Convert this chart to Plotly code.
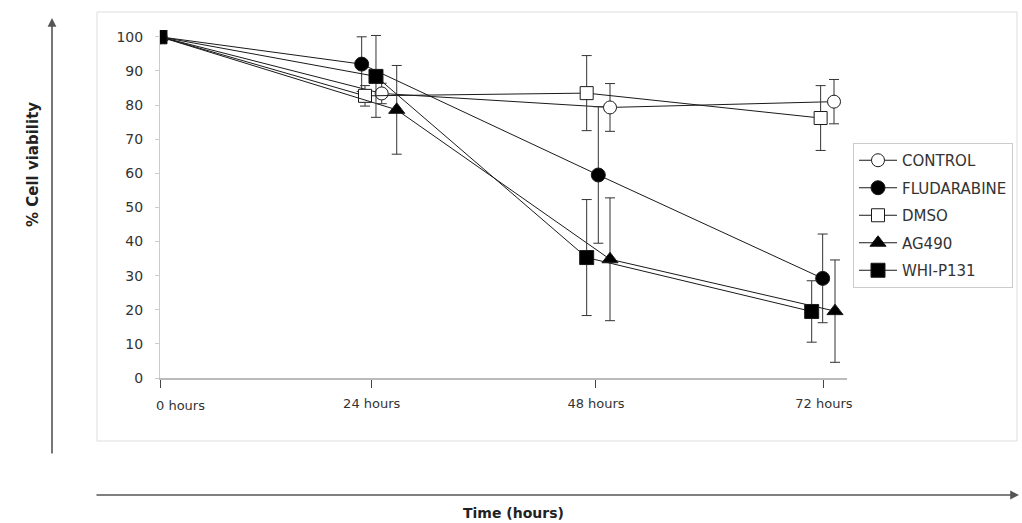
import plotly.graph_objects as go

# ---- data ----
series_names = ["CONTROL", "FLUDARABINE", "DMSO", "AG490", "WHI-P131"]
tick_vals = [0, 22.96, 47.28, 72]
tick_labels = ["0 hours", "24 hours", "48 hours", "72 hours"]

x_control = [0, 24.04, 48.8, 73.09]
y_control = [100, 83.4, 79.3, 81.0]
e_control = [0, 3.0, 7.0, 6.5]

x_fluda = [0, 21.87, 47.53, 71.86]
y_fluda = [100, 92.0, 59.5, 29.2]
e_fluda = [0, 8.0, 20.0, 13.0]

x_dmso = [0, 22.23, 46.27, 71.64]
y_dmso = [100, 82.7, 83.5, 76.2]
e_dmso = [0, 3.0, 11.0, 9.5]

x_ag490 = [0, 25.67, 48.8, 73.2]
y_ag490 = [100, 78.6, 34.8, 19.6]
e_ag490 = [0, 13.0, 18.0, 15.0]

x_whi = [0, 23.42, 46.27, 70.67]
y_whi = [100, 88.4, 35.3, 19.5]
e_whi = [0, 12.0, 17.0, 9.0]

styles = {
    "CONTROL": dict(symbol="circle", color="white", size=13),
    "FLUDARABINE": dict(symbol="circle", color="black", size=14),
    "DMSO": dict(symbol="square", color="white", size=13),
    "AG490": dict(symbol="triangle-up", color="black", size=14),
    "WHI-P131": dict(symbol="square", color="black", size=14),
}
data = {
    "CONTROL": (x_control, y_control, e_control),
    "FLUDARABINE": (x_fluda, y_fluda, e_fluda),
    "DMSO": (x_dmso, y_dmso, e_dmso),
    "AG490": (x_ag490, y_ag490, e_ag490),
    "WHI-P131": (x_whi, y_whi, e_whi),
}

FONT = "DejaVu Sans, Liberation Sans, Arial, sans-serif"

fig = go.Figure()
for name in series_names:
    xs, ys, es = data[name]
    st = styles[name]
    fig.add_trace(go.Scatter(
        x=xs, y=ys, name=name, mode="lines+markers",
        legendgroup=name,
        line=dict(color="#1a1a1a", width=1),
        marker=dict(symbol=st["symbol"], size=st["size"], color=st["color"],
                    line=dict(color="#1a1a1a", width=1)),
        error_y=dict(type="data", array=es, visible=True, color="#333333",
                     thickness=1, width=5),
    ))

# body margin is removed below, so figure coords = page coords
W, H = 1022, 523
PLOT_LEFT, PLOT_TOP = 160, 30
PLOT_RIGHT, PLOT_BOTTOM = 847, 378
L, T = PLOT_LEFT, PLOT_TOP
R = W - PLOT_RIGHT
B = H - PLOT_BOTTOM
pw, ph = W - L - R, H - T - B


def px(x):
    return (x - L) / pw


def py(y):
    return (H - B - y) / ph


fig.update_layout(
    width=W, height=H,
    margin=dict(l=L, r=R, t=T, b=B, pad=0, autoexpand=False),
    paper_bgcolor="white", plot_bgcolor="white",
    font=dict(family=FONT, size=13, color="#333333"),
    showlegend=True,
    legend=dict(
        xref="container", yref="container",
        x=853 / W, y=1 - 143 / H, xanchor="left", yanchor="top",
        bordercolor="#cccccc", borderwidth=1, bgcolor="white",
        font=dict(family=FONT, size=15, color="#333333"),
        tracegroupgap=5, itemwidth=38,
    ),
    xaxis=dict(
        range=[0, 74.5], tickmode="array", tickvals=tick_vals,
        ticktext=[""] + tick_labels[1:],
        showgrid=False, zeroline=False,
        showline=True, linecolor="#bbbbbb", linewidth=2,
        ticks="outside", ticklen=8, tickcolor="#444444", tickwidth=1,
        ticklabelstandoff=4,
        tickfont=dict(family=FONT, size=13, color="#333333"),
    ),
    yaxis=dict(
        range=[0, 102], tickmode="array", tickvals=list(range(0, 101, 10)),
        showgrid=False, zeroline=False,
        showline=True, linecolor="#cccccc", linewidth=1,
        ticks="outside", ticklen=4, tickcolor="#cccccc",
        ticklabelstandoff=9,
        tickfont=dict(family=FONT, size=14, color="#333333"),
    ),
)

# outer chart-area border
fig.add_shape(type="rect", xref="paper", yref="paper",
              x0=px(97), x1=px(1017), y0=py(441), y1=py(12),
              line=dict(color="#dddddd", width=1), fillcolor="rgba(0,0,0,0)",
              layer="below")

# first x tick label (left aligned to its tick)
fig.add_annotation(x=tick_vals[0], y=py(405), xref="x", yref="paper",
                   text=tick_labels[0], showarrow=False, xanchor="left",
                   yanchor="middle", xshift=-6,
                   font=dict(family=FONT, size=13, color="#333333"))

# vertical arrow (y axis)
fig.add_annotation(x=px(52), y=py(18), xref="paper", yref="paper",
                   ax=0, ay=455 - 18, axref="pixel", ayref="pixel",
                   text="", showarrow=True, arrowhead=2, arrowsize=1.1,
                   arrowwidth=1.6, arrowcolor="#555555")
# horizontal arrow (x axis)
fig.add_annotation(x=px(1019), y=py(495), xref="paper", yref="paper",
                   ax=-(1019 - 95), ay=0, axref="pixel", ayref="pixel",
                   text="", showarrow=True, arrowhead=2, arrowsize=1.1,
                   arrowwidth=1.6, arrowcolor="#555555")

fig.add_annotation(x=px(33), y=py(165), xref="paper", yref="paper",
                   text="<b>% Cell viability</b>", showarrow=False,
                   textangle=-90, xanchor="center", yanchor="middle",
                   font=dict(family=FONT, size=15, color="#222222"))
fig.add_annotation(x=px(513), y=py(523), xref="paper", yref="paper",
                   text="<b>Time (hours)</b>", showarrow=False,
                   yanchor="bottom",
                   font=dict(family=FONT, size=14, color="#222222"))

fig.write_html(
    "out.html",
    config={"displayModeBar": False},
    post_script="document.body.style.margin='0';document.body.style.overflow='hidden';",
)
